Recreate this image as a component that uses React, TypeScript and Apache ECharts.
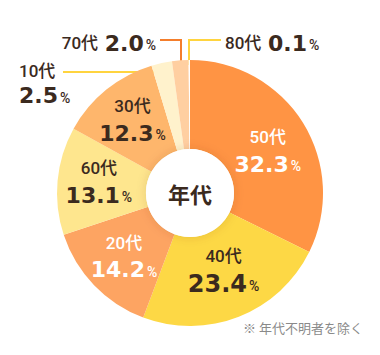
import React, { useEffect, useRef } from "react";
import * as echarts from "echarts";

const categories = ["50代", "40代", "20代", "60代", "30代", "10代", "70代", "80代"];
const values = [32.3, 23.4, 14.2, 13.1, 12.3, 2.5, 2.0, 0.1];
const colors = ["#FF9444", "#FDD845", "#FDA462", "#FEE68E", "#FEB66C", "#FFF2CC", "#FFCFA1", "#FFFFFF"];
const insideTextColors = ["#ffffff", "#3B2A1E", "#ffffff", "#3B2A1E", "#3B2A1E"];
const lineColors: Record<number, string> = { 5: "#FFD43F", 6: "#F47E2C", 7: "#FFD43F" };
const centerLabel = "年代";
const note = "※ 年代不明者を除く";

const FONT = "Roboto, 'Noto Sans CJK JP', sans-serif";
const NUM = "'DejaVu Sans', Roboto, sans-serif";
const CJK = "'Noto Sans CJK JP', 'Noto Sans', sans-serif";
const DARK = "#3B2A1E";

export default function App() {
  const ref = useRef<HTMLDivElement>(null);
  useEffect(() => {
    document.body.style.margin = "0";
    const chart = echarts.init(ref.current!, undefined, { renderer: "svg" });
    const fmt = (multi: boolean, big: boolean) => (p: any) =>
      `{n|${p.name}}${multi ? "\n" : "  "}{${big ? "vb" : "v"}|${Number(p.value).toFixed(1)}}{p|%}`;
    const rich = (tc: string, tight = false) => ({
      n: { fontSize: 17, fontWeight: 500, color: tc, fontFamily: FONT, lineHeight: tight ? 23 : 25 },
      v: { fontSize: 22, fontWeight: "bold", color: tc, fontFamily: NUM, lineHeight: tight ? 26 : 29 },
      vb: { fontSize: 24, fontWeight: "bold", color: tc, fontFamily: NUM, lineHeight: 31 },
      p: { fontSize: 14, fontWeight: 500, color: tc, fontFamily: FONT, lineHeight: tight ? 26 : 29, padding: [4, 0, 0, 2] },
    });
    const data = categories.map((name, i) => {
      const inside = i < 5;
      const tc = inside ? insideTextColors[i] : DARK;
      const item: any = {
        name,
        value: values[i],
        itemStyle: { color: colors[i] },
        label: inside
          ? { show: true, position: "inside", formatter: fmt(true, i === 1), rich: rich(tc) }
          : { show: true, position: "outside", formatter: fmt(i === 5, false), rich: rich(DARK, i === 5) },
        labelLine: inside
          ? { show: false }
          : { show: true, length: 10, length2: 10, smooth: false, lineStyle: { color: lineColors[i], width: 2 } },
      };
      return item;
    });
    chart.setOption({
      animation: false,
      series: [
        {
          type: "pie",
          center: [190, 193],
          radius: [44, 133],
          startAngle: 90,
          clockwise: true,
          minAngle: 0.6,
          avoidLabelOverlap: false,
          silent: true,
          data,
          labelLayout: (p: any) => {
            const i = p.dataIndex;
            if (i === 0) return { dy: 7 };
            if (i === 1) return { dy: -7 };
            if (i === 2) return { dy: 1 };
            if (i === 3) return { dy: -2 };
            if (i === 4) return { dy: -1 };
            if (i === 6)
              return {
                x: 156, y: 43, align: "right", verticalAlign: "middle",
                labelLinePoints: [[181, 65], [181, 40], [160, 40]],
              };
            if (i === 7)
              return {
                x: 225, y: 43, align: "left", verticalAlign: "middle",
                labelLinePoints: [[189, 65], [189, 40], [221, 40]],
              };
            if (i === 5)
              return {
                x: 19, y: 84, align: "left", verticalAlign: "middle",
                labelLinePoints: [[164, 82], [164, 72], [63, 72]],
              };
            return {};
          },
        },
        {
          type: "pie",
          center: [190, 193],
          radius: [0, 44],
          silent: true,
          data: [{ name: centerLabel, value: 1 }],
          itemStyle: { color: "#ffffff", shadowBlur: 10, shadowColor: "rgba(120,60,0,0.18)" },
          label: {
            show: true,
            position: "center",
            formatter: "{b}",
            fontSize: 22,
            fontWeight: "bold",
            color: DARK,
            fontFamily: CJK,
          },
          labelLine: { show: false },
        },
      ],
      graphic: [
        {
          type: "text",
          right: 17,
          top: 321,
          style: { text: note, fontSize: 13, fill: "#8a8a8a", fontFamily: CJK },
        },
      ],
    });
    return () => chart.dispose();
  }, []);
  return <div ref={ref} style={{ width: 380, height: 355, position: "absolute", left: 0, top: 0 }} />;
}
